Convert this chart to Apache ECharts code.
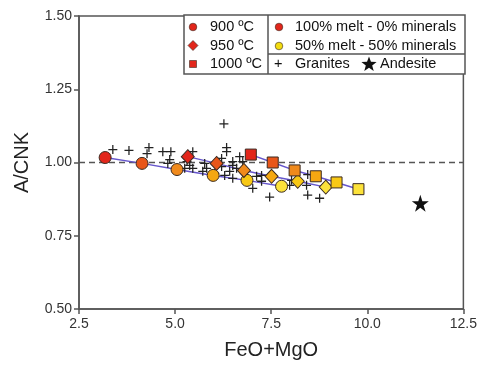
<!DOCTYPE html>
<html>
<head>
<meta charset="utf-8">
<script src="https://cdn.jsdelivr.net/npm/echarts@6/dist/echarts.min.js"></script>
<style>html,body{margin:0;padding:0;background:#fff;overflow:hidden}#c{width:480px;height:365px}</style>
</head>
<body>
<div id="c"></div>
<script>
// Data
var xTicks = [2.5, 5.0, 7.5, 10.0, 12.5];
var yTicks = [0.50, 0.75, 1.00, 1.25, 1.50];
var meltLabels = ['100%', '90%', '80%', '70%', '60%', '50%'];
var meltColors = ['#e2261b', '#e8561a', '#f08a1c', '#f5a712', '#f8c815', '#fce23a'];
var t900 = [[3.18, 1.017], [4.14, 0.997], [5.05, 0.976], [5.99, 0.956], [6.87, 0.939], [7.77, 0.919]];
var t950 = [[5.33, 1.020], [6.08, 0.997], [6.79, 0.973], [7.51, 0.953], [8.19, 0.936], [8.92, 0.916]];
var t1000 = [[6.97, 1.027], [7.54, 1.000], [8.11, 0.973], [8.66, 0.953], [9.20, 0.932], [9.77, 0.909]];
var granites = [
  [3.38, 1.044], [3.80, 1.041], [4.32, 1.051], [4.27, 1.030], [4.68, 1.037], [4.89, 1.037],
  [4.86, 1.010], [4.81, 0.997], [6.27, 1.132], [6.34, 1.051], [6.34, 1.037], [5.46, 1.037],
  [5.31, 1.003], [5.38, 0.990], [5.46, 0.980], [5.25, 0.980], [5.77, 0.997], [5.82, 0.980],
  [5.72, 0.970], [6.21, 1.014], [6.21, 0.986], [6.29, 0.956], [6.42, 0.970], [6.50, 1.003],
  [6.60, 0.980], [6.50, 0.946], [6.76, 1.003], [7.12, 0.953], [7.25, 0.936], [7.02, 0.912],
  [7.46, 0.882], [7.25, 0.956], [8.03, 0.939], [7.98, 0.922], [8.45, 0.959], [8.45, 0.889],
  [8.76, 0.878], [8.42, 0.922], [6.50, 0.990], [6.68, 1.020], [6.03, 0.963]
];
var andesite = [[11.38, 0.861]];
var refLine = [[2.5, 1.0], [12.5, 1.0]];

var FONT = 'Liberation Sans, Arial, Helvetica, sans-serif';
var AX = '#555';
var LINE = '#6656cc';
var PLUS = 'path://M4.3,0h1.4v4.3h4.3v1.4h-4.3v4.3h-1.4v-4.3h-4.3v-1.4h4.3z';
var STAR = 'path://M50,0L61.8,35.3L99,35.3L69,57.3L80.3,92.7L50,70.8L19.7,92.7L31,57.3L1,35.3L38.2,35.3Z';

function tempSeries(data, symbol, size) {
  return [
    { type: 'line', data: data, showSymbol: false, z: 3, silent: true,
      lineStyle: { color: LINE, width: 1.5 } },
    { type: 'scatter', data: data, symbol: symbol, symbolSize: size, z: 5,
      itemStyle: { opacity: 1, color: function (p) { return meltColors[p.dataIndex]; },
                   borderColor: '#3a2a20', borderWidth: 1 } }
  ];
}

function starPoints(cx, cy, R) {
  var pts = [], r = R * 0.42;
  for (var i = 0; i < 10; i++) {
    var a = -Math.PI / 2 + i * Math.PI / 5, rr = (i % 2 === 0) ? R : r;
    pts.push([cx + rr * Math.cos(a), cy + rr * Math.sin(a)]);
  }
  return pts;
}

var chart = echarts.init(document.getElementById('c'), null, { renderer: 'canvas', width: 480, height: 365 });
var series = [
  { type: 'line', data: refLine, showSymbol: false, z: 1, silent: true,
    lineStyle: { color: '#555', width: 1.5, type: [6, 4] } },
  { type: 'scatter', data: granites, symbol: PLUS, symbolSize: 9, z: 4,
    itemStyle: { color: '#222', opacity: 1 } },
  { type: 'scatter', data: andesite, symbol: STAR, symbolSize: 17, z: 4,
    itemStyle: { color: '#111', opacity: 1 } }
].concat(tempSeries(t900, 'circle', 12))
 .concat(tempSeries(t950, 'diamond', [13, 14]))
 .concat(tempSeries(t1000, 'rect', 11));

var lx = 184, ly = 15, lw = 281, lh = 59;
function T(x, y, s) {
  return { type: 'text', x: x, y: y, z: 101,
    style: { text: s, fill: '#111', font: '14.5px ' + FONT, verticalAlign: 'middle', align: 'left' } };
}

chart.setOption({
  animation: false,
  grid: { left: 79, right: 15, top: 16, bottom: 53, show: true, borderColor: AX, borderWidth: 1.5 },
  xAxis: {
    type: 'value', min: 2.5, max: 12.5, interval: 2.5,
    name: 'FeO+MgO', nameLocation: 'middle', nameGap: 31,
    nameTextStyle: { fontSize: 20, color: '#222', fontFamily: FONT },
    axisLine: { lineStyle: { color: AX, width: 1.5 } },
    axisTick: { show: true, length: 5, lineStyle: { color: AX, width: 1.5 } },
    axisLabel: { fontSize: 14, color: '#333', fontFamily: FONT, margin: 8,
      formatter: function (v) { return v.toFixed(1); } },
    splitLine: { show: false }
  },
  yAxis: {
    type: 'value', min: 0.5, max: 1.5, interval: 0.25,
    name: 'A/CNK', nameLocation: 'middle', nameGap: 47, nameRotate: 90,
    nameTextStyle: { fontSize: 20, color: '#222', fontFamily: FONT },
    axisLine: { show: true, lineStyle: { color: AX, width: 1.5 } },
    axisTick: { show: true, length: 5, lineStyle: { color: AX, width: 1.5 } },
    axisLabel: { fontSize: 14, color: '#333', fontFamily: FONT, margin: 7,
      formatter: function (v) { return v.toFixed(2); } },
    splitLine: { show: false }
  },
  series: series,
  graphic: [
    { type: 'rect', z: 100, shape: { x: lx, y: ly, width: lw, height: lh },
      style: { fill: '#fff', stroke: AX, lineWidth: 1.5 } },
    { type: 'line', z: 101, shape: { x1: 268, y1: ly, x2: 268, y2: ly + lh }, style: { stroke: AX, lineWidth: 1.5 } },
    { type: 'line', z: 101, shape: { x1: 268, y1: 54, x2: lx + lw, y2: 54 }, style: { stroke: AX, lineWidth: 1.5 } },
    { type: 'circle', z: 101, shape: { cx: 193, cy: 27, r: 3.8 }, style: { fill: meltColors[0], stroke: '#3a2a20', lineWidth: 0.6 } },
    { type: 'polygon', z: 101, shape: { points: [[193, 40.5], [198, 45.5], [193, 50.5], [188, 45.5]] }, style: { fill: meltColors[0], stroke: '#3a2a20', lineWidth: 0.6 } },
    { type: 'rect', z: 101, shape: { x: 189.5, y: 60.5, width: 7, height: 7 }, style: { fill: meltColors[0], stroke: '#3a2a20', lineWidth: 0.6 } },
    T(210, 27, '900 ºC'), T(210, 46, '950 ºC'), T(210, 64, '1000 ºC'),
    { type: 'circle', z: 101, shape: { cx: 279, cy: 27, r: 3.8 }, style: { fill: meltColors[0], stroke: '#3a2a20', lineWidth: 0.6 } },
    { type: 'circle', z: 101, shape: { cx: 279, cy: 46, r: 3.8 }, style: { fill: '#f3dc10', stroke: '#3a2a20', lineWidth: 0.6 } },
    T(295, 27, '100% melt - 0% minerals'), T(295, 46, '50% melt - 50% minerals'),
    T(274, 64, '+'), T(295, 64, 'Granites'),
    { type: 'polygon', z: 101, shape: { points: starPoints(369, 64.5, 8) }, style: { fill: '#111' } },
    T(380, 64, 'Andesite')
  ]
});
</script>
</body>
</html>
